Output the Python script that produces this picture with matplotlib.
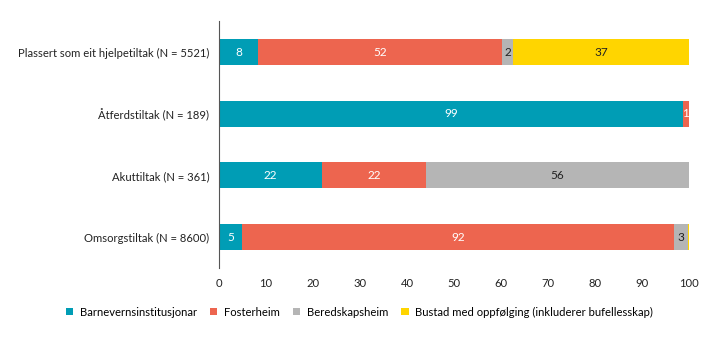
import matplotlib
matplotlib.use("Agg")
import matplotlib.pyplot as plt
import numpy as np

plt.rcParams['font.family'] = ['Lato', 'DejaVu Sans']
plt.rcParams['font.size'] = 8.1

categories = ['Plassert som eit hjelpetiltak (N = 5521)', 'Åtferdstiltak (N = 189)',
              'Akuttiltak (N = 361)', 'Omsorgstiltak (N = 8600)']
series = ['Barnevernsinstitusjonar', 'Fosterheim', 'Beredskapsheim',
          'Bustad med oppfølging (inkluderer bufellesskap)']
institusjon = [8.3, 98.7, 21.9, 4.9]
fosterheim = [51.9, 1.3, 22.1, 92.0]
beredskap = [2.4, 0.0, 56.0, 2.8]
bustad = [37.4, 0.0, 0.0, 0.3]

colors = ['#009db5', '#ed654f', '#b5b5b5', '#ffd500']
text_colors = ['white', 'white', '#222222', '#222222']

fig = plt.figure(figsize=(7.19, 3.41), dpi=100)
ax = fig.add_axes([0.3046, 0.214, 0.6537, 0.724])

y = np.arange(len(categories))
left = np.zeros(len(categories))
for name, vals, c, tc in zip(series, [institusjon, fosterheim, beredskap, bustad], colors, text_colors):
    vals = np.array(vals)
    ax.barh(y, vals, left=left, height=0.42, color=c, label=name)
    for yi, (l, v) in enumerate(zip(left, vals)):
        if v >= 0.9:
            ax.text(l + v / 2, yi, f'{v:.0f}', ha='center', va='center', color=tc, fontsize=8.5)
    left += vals

ax.set_ylim(3.5, -0.5)
ax.set_xlim(0, 100)
ax.set_yticks(y)
ax.set_yticklabels(categories)
ax.set_xticks(np.arange(0, 101, 10))
ax.tick_params(axis='both', length=0, colors='#222222')
ax.tick_params(axis='x', pad=7)
ax.tick_params(axis='y', pad=7)
for s in ['top', 'right', 'bottom']:
    ax.spines[s].set_visible(False)
ax.spines['left'].set_color('#555555')
ax.spines['left'].set_linewidth(0.8)

fig.legend(loc='center', bbox_to_anchor=(0.5, 0.085), ncol=4, frameon=False,
           handlelength=0.65, handleheight=0.65, handletextpad=0.6, columnspacing=1.15)

fig.savefig('out.png', dpi=100)
